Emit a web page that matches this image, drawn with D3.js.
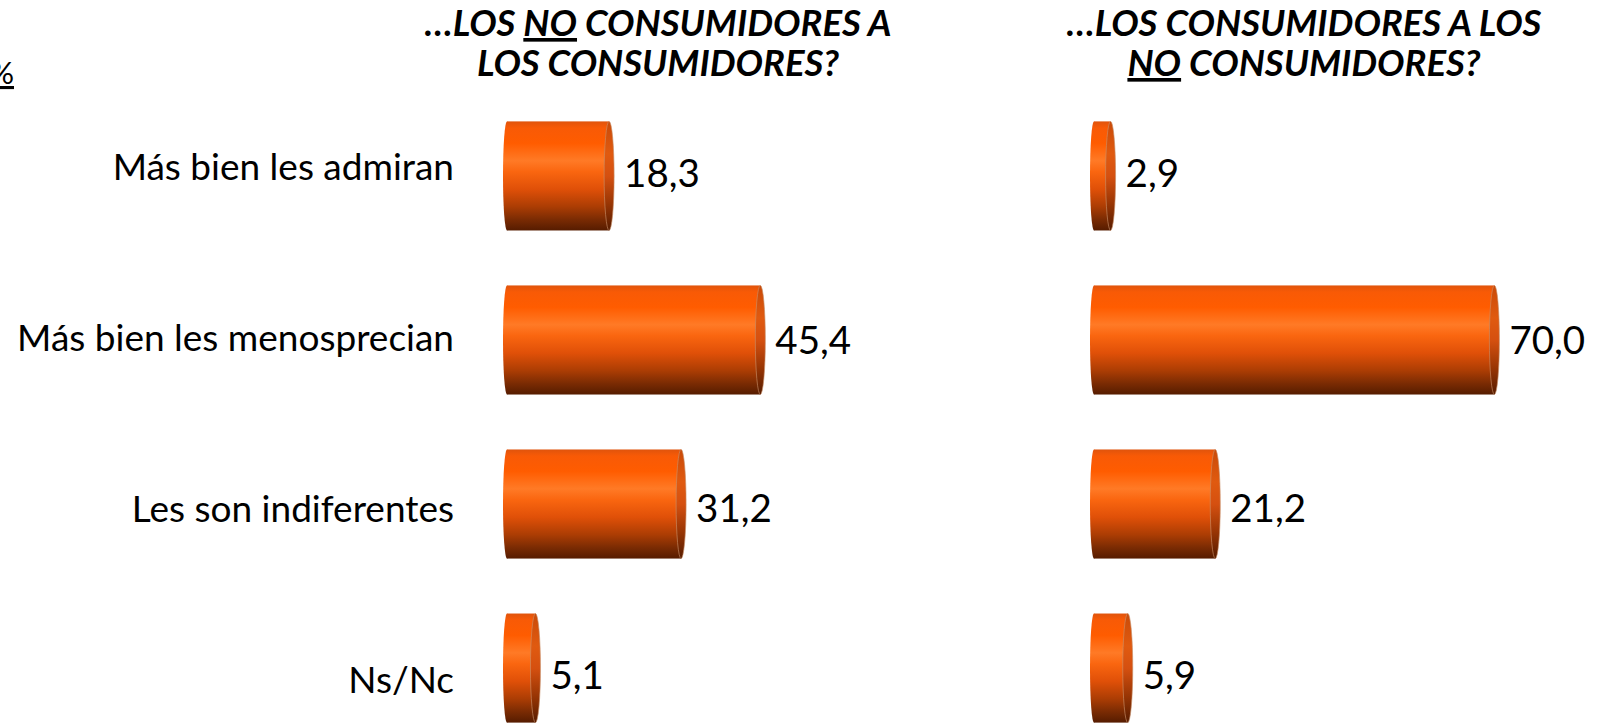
<!DOCTYPE html>
<html><head><meta charset="utf-8">
<script src="https://cdn.jsdelivr.net/npm/d3@7"></script>
<style>
html,body{margin:0;padding:0;background:#fff;overflow:hidden;}
svg{display:block;}
text{font-family:Lato,"Open Sans",sans-serif;fill:#000;}
</style></head>
<body>
<script>
const categories = ["Más bien les admiran","Más bien les menosprecian","Les son indiferentes","Ns/Nc"];
const noConsToCons = [18.3, 45.4, 31.2, 5.1];
const consToNoCons = [2.9, 70.0, 21.2, 5.9];
const panelTitles = [
  [["…LOS ",""],["NO","u"],[" CONSUMIDORES A",""]],
  [["LOS CONSUMIDORES?",""]]
];
const panelTitles2 = [
  [["…LOS CONSUMIDORES A LOS",""]],
  [["NO","u"],[" CONSUMIDORES?",""]]
];
const unitLabel = "%";

const W = 1604, H = 724;
const svg = d3.select("body").append("svg").attr("width", W).attr("height", H);
const defs = svg.append("defs");

const g1 = defs.append("linearGradient").attr("id","barGrad").attr("x1",0).attr("y1",0).attr("x2",0).attr("y2",1);
[[0,"#e0540c"],[0.06,"#f85a06"],[0.2,"#ff5c00"],[0.36,"#ff7a26"],[0.46,"#fa6610"],[0.62,"#e05008"],[0.78,"#ac3d04"],[0.9,"#7a2b03"],[1,"#561c00"]]
  .forEach(([o,c])=>g1.append("stop").attr("offset",o).attr("stop-color",c));
const g2 = defs.append("linearGradient").attr("id","capGrad").attr("x1",0).attr("y1",0).attr("x2",0).attr("y2",1);
[[0,"#c94a08"],[0.3,"#e05a10"],[0.5,"#d55010"],[0.75,"#9a3604"],[1,"#561c00"]]
  .forEach(([o,c])=>g2.append("stop").attr("offset",o).attr("stop-color",c));
defs.append("filter").attr("id","blur").append("feGaussianBlur").attr("stdDeviation",1.2);

const y = d3.scaleBand().domain(categories).range([94, 750]).paddingInner(0.335).paddingOuter(0.167);
const yCat = d3.scalePoint().domain(categories).range([180, 693]);
const yVal = d3.scalePoint().domain(categories).range([187, 689]);
const rx = 4;

// category labels
svg.append("g").selectAll("text").data(categories).join("text")
  .attr("x", 454).attr("y", d => yCat(d)).attr("text-anchor","end")
  .attr("font-size", 37).text(d => d);

// unit label
svg.append("text").attr("x", 14).attr("y", 84).attr("text-anchor","end")
  .attr("font-size", 31).style("text-decoration","underline").text(unitLabel);

function title(lines, cx) {
  lines.forEach((parts, i) => {
    const t = svg.append("text").attr("x", cx).attr("y", 36 + i*40).attr("text-anchor","middle")
      .attr("font-size", 36.5).attr("font-weight","bold").attr("font-style","italic");
    parts.forEach(([s, u]) => {
      const ts = t.append("tspan").text(s);
      if (u) ts.style("text-decoration","underline");
    });
  });
}

function panel(values, x0, x) {
  const g = svg.append("g");
  const data = categories.map((c,i)=>({c, v: values[i]}));
  const rows = g.selectAll("g").data(data).join("g");
  rows.append("line").attr("x1", x0+1.5).attr("x2", x0+1.5)
    .attr("y1", d => y(d.c) - 10).attr("y2", d => y(d.c) + y.bandwidth() + 9)
    .attr("stroke","#8a8a8a").attr("stroke-width",2.2).attr("opacity",0.75).attr("filter","url(#blur)");
  rows.append("rect").attr("x", x0 + rx).attr("y", d => y(d.c))
    .attr("width", d => x(d.v)).attr("height", y.bandwidth()).attr("fill","url(#barGrad)");
  rows.append("ellipse").attr("cx", x0 + rx).attr("cy", d => y(d.c) + y.bandwidth()/2)
    .attr("rx", rx).attr("ry", y.bandwidth()/2).attr("fill","url(#barGrad)");
  rows.append("ellipse").attr("cx", d => x0 + rx + x(d.v)).attr("cy", d => y(d.c) + y.bandwidth()/2)
    .attr("rx", rx+1).attr("ry", y.bandwidth()/2).attr("fill","url(#capGrad)")
    .attr("stroke","#c8906a").attr("stroke-width",0.8).attr("stroke-opacity",0.8);
  rows.append("text").attr("x", d => x0 + 2*rx + x(d.v) + 11).attr("y", d => yVal(d.c))
    .attr("font-size", 38.5).text(d => d3.format(".1f")(d.v).replace(".", ","));
}

panel(noConsToCons, 503, d3.scaleLinear().domain([0, 100]).range([0, 558]));
panel(consToNoCons, 1090, d3.scaleLinear().domain([0, 100]).range([0, 572]));
title(panelTitles, 658);
title(panelTitles2, 1304);
</script>
</body></html>
